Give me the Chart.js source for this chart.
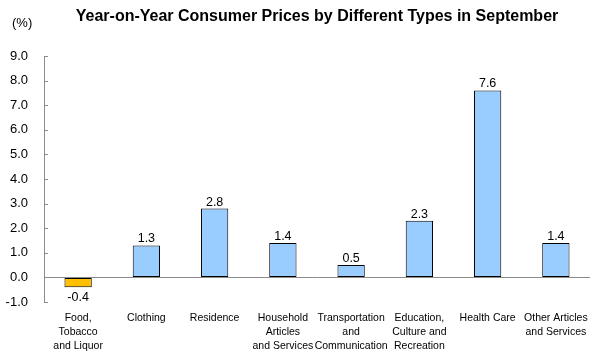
<!DOCTYPE html>
<html>
<head>
<meta charset="utf-8">
<script src="https://cdn.jsdelivr.net/npm/chart.js@4"></script>
<style>
html,body{margin:0;padding:0;background:#fff;}
#wrap{width:601px;height:355px;position:relative;}
</style>
</head>
<body>
<div id="wrap"><canvas id="c" width="601" height="355"></canvas></div>
<script>
const titleText = "Year-on-Year Consumer Prices by Different Types in September";
const unitText = "(%)";
const categories = [
  ["Food,", "Tobacco", "and Liquor"],
  ["Clothing"],
  ["Residence"],
  ["Household", "Articles", "and Services"],
  ["Transportation", "and", "Communication"],
  ["Education,", "Culture and", "Recreation"],
  ["Health Care"],
  ["Other Articles", "and Services"]
];
const values = [-0.4, 1.3, 2.8, 1.4, 0.5, 2.3, 7.6, 1.4];
const yMin = -1, yMax = 9, yStep = 1;

const FONT = "'Liberation Sans', Arial, sans-serif";

const extras = {
  id: 'extras',
  afterDraw(chart) {
    const ctx = chart.ctx;
    const y = chart.scales.y;
    const area = chart.chartArea;
    ctx.save();
    // inward tick marks on y axis
    ctx.strokeStyle = '#8c8c8c';
    ctx.lineWidth = 1;
    for (let v = yMin; v <= yMax + 1e-9; v += yStep) {
      const py = Math.round(y.getPixelForValue(v)) + 0.5;
      ctx.beginPath();
      ctx.moveTo(area.left, py);
      ctx.lineTo(area.left + 4, py);
      ctx.stroke();
    }
    // value labels
    ctx.fillStyle = '#000';
    ctx.font = "12.5px " + FONT;
    ctx.textAlign = 'center';
    ctx.textBaseline = 'alphabetic';
    const meta = chart.getDatasetMeta(0);
    meta.data.forEach((bar, i) => {
      const v = values[i];
      const txt = v.toFixed(1);
      if (v >= 0) {
        ctx.fillText(txt, bar.x, bar.y - 3);
      } else {
        ctx.fillText(txt, bar.x, bar.y + 14);
      }
    });
    // title
    ctx.font = "bold 16px " + FONT;
    ctx.textBaseline = 'middle';
    ctx.textAlign = 'center';
    ctx.fillText(titleText, (area.left + area.right) / 2, 17);
    // unit
    ctx.font = "13px " + FONT;
    ctx.textAlign = 'left';
    ctx.fillText(unitText, 12, 23);
    ctx.restore();
  }
};

new Chart(document.getElementById('c'), {
  type: 'bar',
  data: {
    labels: categories,
    datasets: [{
      data: values,
      backgroundColor: values.map(v => v < 0 ? '#FFC000' : '#99CCFF'),
      borderColor: '#000000',
      borderWidth: 1,
      borderSkipped: false,
      barPercentage: 0.4,
      categoryPercentage: 1.0
    }]
  },
  options: {
    responsive: false,
    animation: false,
    devicePixelRatio: 1,
    layout: { padding: { top: 56, right: 11, left: 0, bottom: 0 } },
    plugins: { legend: { display: false }, title: { display: false }, tooltip: { enabled: false } },
    scales: {
      x: {
        grid: { display: false, drawTicks: false },
        border: { display: false },
        ticks: {
          color: '#000',
          font: { family: FONT, size: 10.5, lineHeight: 1.333 },
          maxRotation: 0, autoSkip: false, padding: 9
        },
        afterFit(scale) { scale.height = 53; }
      },
      y: {
        min: yMin, max: yMax,
        grid: {
          drawTicks: false,
          color: ctx => (ctx.tick && ctx.tick.value === 0) ? '#8c8c8c' : 'rgba(0,0,0,0)',
          lineWidth: 1
        },
        border: { display: true, color: '#8c8c8c', width: 1 },
        ticks: {
          stepSize: yStep,
          color: '#000',
          font: { family: FONT, size: 13 },
          padding: 16,
          callback: v => Number(v).toFixed(1)
        },
        afterFit(scale) { scale.width = 44; }
      }
    }
  },
  plugins: [extras]
});
</script>
</body>
</html>
